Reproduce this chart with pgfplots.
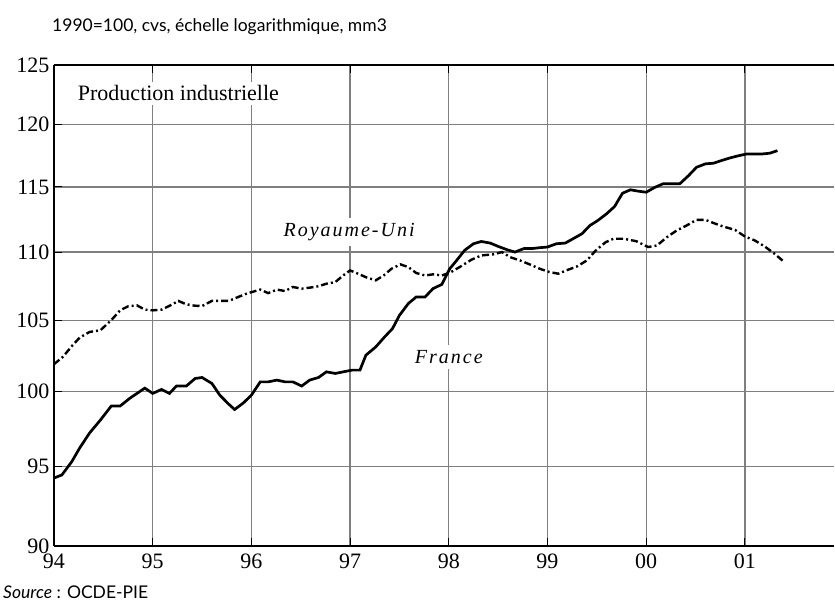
\documentclass[border=0pt]{standalone}
\usepackage{fontspec}
\setmainfont{Liberation Serif}
\newfontfamily\gill{Lato}
\usepackage{pgfplots}
\pgfplotsset{compat=1.18}
\definecolor{gridgrey}{HTML}{7F7F7F}

\begin{document}
\begin{tikzpicture}
\begin{axis}[
  at={(54pt,61pt)}, anchor=south west,
  scale only axis, width=779.7pt, height=481pt,
  xmin=94, xmax=101.9, ymin=90, ymax=125,
  ymode=log,
  axis lines*=left,
  axis line style={line width=2.5pt},
  xtick={94,95,...,101},
  xticklabels={94,95,96,97,98,99,00,01},
  ytick={90,95,100,105,110,115,120,125},
  yticklabels={90,95,100,105,110,115,120,125},
  /pgf/number format/assume math mode=true,
  tick label style={font=\fontsize{22}{24}\selectfont},
  xticklabel style={yshift=-4pt},
  yticklabel style={xshift=-1pt},
  tick align=inside, major tick length=8pt,
  tick style={black, line width=1pt},
  grid=major, grid style={gridgrey, line width=1.3pt},
  clip=false,
]
  % Royaume-Uni
  \addplot[black, line width=2.4pt, dash pattern=on 7pt off 3pt on 2pt off 3pt] coordinates {
    (94.00,101.89)(94.09,102.40)(94.18,103.15)(94.26,103.76)(94.36,104.16)(94.47,104.28)
    (94.58,105.00)(94.67,105.71)(94.75,106.00)(94.84,106.07)(94.92,105.76)(95.00,105.71)
    (95.09,105.76)(95.18,106.07)(95.26,106.39)(95.34,106.15)(95.42,106.05)(95.50,106.02)
    (95.60,106.39)(95.68,106.39)(95.77,106.39)(95.85,106.63)(95.95,106.92)(96.09,107.22)
    (96.17,106.96)(96.26,107.22)(96.34,107.11)(96.42,107.41)(96.51,107.29)(96.59,107.36)
    (96.68,107.46)(96.76,107.65)(96.85,107.77)(96.93,108.26)(97.00,108.63)(97.08,108.39)
    (97.17,108.10)(97.26,107.90)(97.34,108.26)(97.42,108.76)(97.51,109.08)(97.59,108.88)
    (97.67,108.44)(97.76,108.26)(97.84,108.34)(97.93,108.26)(98.01,108.45)(98.11,108.88)
    (98.23,109.43)(98.33,109.75)(98.45,109.83)(98.54,110.00)(98.62,109.62)(98.72,109.38)
    (98.82,109.08)(98.92,108.76)(99.02,108.51)(99.11,108.39)(99.19,108.63)(99.30,108.93)
    (99.40,109.38)(99.49,110.13)(99.59,110.75)(99.67,111.01)(99.77,111.01)(99.90,110.82)
    (100.02,110.38)(100.11,110.50)(100.21,111.13)(100.31,111.64)(100.41,112.02)(100.51,112.45)
    (100.60,112.45)(100.68,112.21)(100.78,111.94)(100.90,111.68)(101.00,111.18)(101.10,110.88)
    (101.20,110.43)(101.30,109.88)(101.40,109.25)
  };
  % France
  \addplot[black, line width=2.7pt] coordinates {
    (94.00,94.27)(94.08,94.47)(94.18,95.33)(94.26,96.22)(94.36,97.21)(94.47,98.08)
    (94.58,99.02)(94.67,99.02)(94.77,99.56)(94.92,100.24)(95.00,99.88)(95.09,100.15)
    (95.17,99.88)(95.24,100.38)(95.34,100.38)(95.43,100.90)(95.50,100.97)(95.60,100.56)
    (95.68,99.76)(95.77,99.15)(95.83,98.79)(95.92,99.24)(96.00,99.76)(96.09,100.67)
    (96.17,100.67)(96.26,100.79)(96.34,100.67)(96.42,100.67)(96.51,100.38)(96.59,100.79)
    (96.68,100.97)(96.76,101.36)(96.85,101.25)(96.93,101.36)(97.02,101.48)(97.10,101.48)
    (97.16,102.52)(97.26,103.10)(97.35,103.81)(97.43,104.40)(97.50,105.35)(97.59,106.20)
    (97.67,106.68)(97.76,106.68)(97.84,107.29)(97.93,107.60)(98.01,108.76)(98.08,109.38)
    (98.16,110.13)(98.25,110.63)(98.33,110.80)(98.42,110.68)(98.50,110.43)(98.59,110.18)
    (98.67,110.00)(98.76,110.26)(98.84,110.26)(98.92,110.33)(99.00,110.38)(99.09,110.63)
    (99.18,110.68)(99.26,111.01)(99.35,111.39)(99.43,112.02)(99.51,112.40)(99.60,112.92)
    (99.68,113.48)(99.76,114.51)(99.84,114.78)(99.92,114.67)(100.00,114.59)(100.09,114.98)
    (100.17,115.25)(100.25,115.25)(100.34,115.25)(100.43,115.90)(100.51,116.56)(100.60,116.83)
    (100.68,116.88)(100.76,117.09)(100.85,117.31)(100.93,117.47)(101.02,117.63)(101.10,117.63)
    (101.18,117.63)(101.25,117.68)(101.33,117.89)
  };
  \draw[black, line width=2pt] (rel axis cs:0,1) -- (rel axis cs:1,1);
  \pgfplotsinvokeforeach{95,...,101}{%
    \draw[black, line width=1pt] (axis cs:#1,125) -- ([yshift=-8pt]axis cs:#1,125);}
  \node[fill=white, anchor=west, inner sep=4pt, font=\fontsize{22}{24}\selectfont]
    at (axis cs:94.2,122.6) {Production industrielle};
  \node[fill=white, inner sep=5pt, font=\fontsize{20}{24}\selectfont\itshape\addfontfeature{LetterSpace=10}]
    at (axis cs:96.99,111.5) {Royaume-Uni};
  \node[fill=white, inner sep=5pt, font=\fontsize{20}{24}\selectfont\itshape\addfontfeature{LetterSpace=10}]
    at (axis cs:98.0,102.4) {France};
\end{axis}
\node[anchor=west, inner sep=0pt, font=\gill\fontsize{17.5}{20}\selectfont] at (52pt,580pt)
  {1990=100, cvs, échelle logarithmique, mm3};
\node[anchor=west, inner sep=0pt, font=\gill\fontsize{17.5}{20}\selectfont] at (3pt,15pt)
  {\textit{Source} : OCDE-PIE};
\pgfresetboundingbox
\path (0,0) rectangle (835pt,607pt);
\end{tikzpicture}
\end{document}
